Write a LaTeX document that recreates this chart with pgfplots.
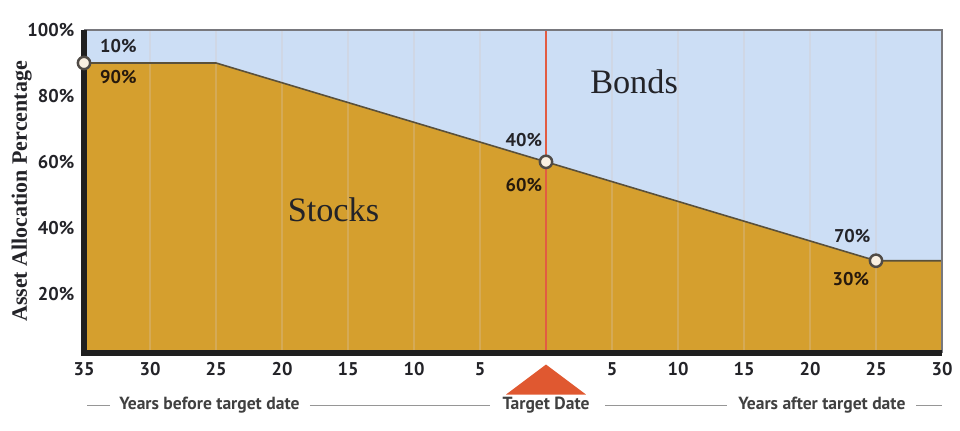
\documentclass[border=0pt]{standalone}
\usepackage{fontspec}
\setmainfont{Liberation Serif}
\setsansfont{PT Sans}
\usepackage{pgfplots}
\pgfplotsset{compat=1.18}

\definecolor{stockgold}{RGB}{213,159,46}
\definecolor{bondblue}{RGB}{204,222,245}
\definecolor{edgecol}{RGB}{90,80,58}
\definecolor{gridc}{RGB}{215,200,190}
\definecolor{redline}{RGB}{226,92,66}
\definecolor{arrowred}{RGB}{224,88,48}
\definecolor{framegrey}{RGB}{120,120,125}
\definecolor{markfill}{RGB}{250,240,225}
\definecolor{markedge}{RGB}{80,75,70}
\definecolor{capgrey}{RGB}{150,150,150}
\definecolor{txtdark}{RGB}{35,35,40}

\newcommand{\pctfont}{\sffamily\bfseries\fontsize{10.5}{12}\selectfont}

\begin{document}
\begin{tikzpicture}
\path[use as bounding box] (-1.68,-1.54) rectangle (17.52,7.06);
\begin{axis}[
    at={(0,0)}, anchor=south west,
    scale only axis,
    width=17.16cm, height=6.46cm,
    xmin=-35, xmax=30, ymin=2, ymax=100,
    axis line style={draw=none},
    axis background/.style={fill=bondblue},
    clip mode=individual,
    major tick length=0pt,
    xtick={-35,-30,-25,-20,-15,-10,-5,5,10,15,20,25,30},
    xticklabels={35,30,25,20,15,10,5,5,10,15,20,25,30},
    ytick={20,40,60,80,100},
    yticklabels={20\%,40\%,60\%,80\%,100\%},
    tick label style={font=\sffamily\bfseries\fontsize{10.5}{12}\selectfont, text=txtdark},
    xticklabel style={yshift=-2pt},
    yticklabel style={xshift=-2pt},
    ylabel={Asset Allocation Percentage},
    ylabel style={at={(axis description cs:-0.0725,0.5)}, anchor=center,
        font=\bfseries\fontsize{12.5}{14}\selectfont, text=txtdark},
]
% stocks share, the rest is bonds (background)
\addplot[fill=stockgold, draw=none] coordinates {(-35,90) (-25,90) (0,60) (25,30) (30,30)} \closedcycle;

\pgfplotsinvokeforeach{-30,-25,-20,-15,-10,-5,5,10,15,20,25}{
    \draw[gridc, opacity=0.28, line width=0.6pt] (axis cs:#1,2) -- (axis cs:#1,100);
}

\addplot[draw=edgecol, line width=0.9pt] coordinates {(-35,90) (-25,90) (0,60) (25,30) (30,30)};

\draw[redline, line width=0.6pt] (axis cs:0,2) -- (axis cs:0,100);

% frame
\draw[framegrey, line width=0.6pt] (rel axis cs:0,1) -- (rel axis cs:1,1) -- (rel axis cs:1,0);
\draw[black!88, line width=3.4pt] (rel axis cs:0,1) -- (rel axis cs:0,0) -- (rel axis cs:1,0);

\addplot[only marks, mark=*, mark size=3.5pt,
    mark options={fill=markfill, draw=markedge, line width=1.4pt}]
    coordinates {(-35,90) (0,60) (25,30)};

% percentage labels
\node[font=\pctfont, text=txtdark] at (axis cs:-32.4,95.2) {10\%};
\node[font=\pctfont, text=black!80!brown] at (axis cs:-32.4,85.8) {90\%};
\node[font=\pctfont, text=txtdark] at (axis cs:-1.67,66.7) {40\%};
\node[font=\pctfont, text=black!80!brown] at (axis cs:-1.67,53) {60\%};
\node[font=\pctfont, text=txtdark] at (axis cs:23.2,37.6) {70\%};
\node[font=\pctfont, text=black!80!brown] at (axis cs:23.1,24.5) {30\%};

\node[font=\fontsize{19.5}{22}\selectfont, text=txtdark] at (axis cs:6.67,84.2) {Bonds};
\node[font=\fontsize{19.5}{22}\selectfont, text=txtdark] at (axis cs:-16.1,45.5) {Stocks};

% target date marker and caption
\fill[arrowred] (axis cs:0,-1.5) -- (axis cs:3.03,-10.6) -- (axis cs:-3.03,-10.6) -- cycle;

\begin{scope}[capgrey, line width=0.8pt]
\draw (axis cs:-34.77,-13.9) -- (axis cs:-33.03,-13.9);
\draw (axis cs:-17.88,-13.9) -- (axis cs:-4.24,-13.9);
\draw (axis cs:4.47,-13.9) -- (axis cs:13.71,-13.9);
\draw (axis cs:28.03,-13.9) -- (axis cs:30,-13.9);
\end{scope}
\node[font=\sffamily\bfseries\fontsize{10}{12}\selectfont, text=black!75] at (axis cs:-25.5,-13.9) {Years before target date};
\node[font=\sffamily\bfseries\fontsize{10}{12}\selectfont, text=black!75] at (axis cs:0,-13.9) {Target Date};
\node[font=\sffamily\bfseries\fontsize{10}{12}\selectfont, text=black!75] at (axis cs:20.9,-13.9) {Years after target date};
\end{axis}
\end{tikzpicture}
\end{document}
